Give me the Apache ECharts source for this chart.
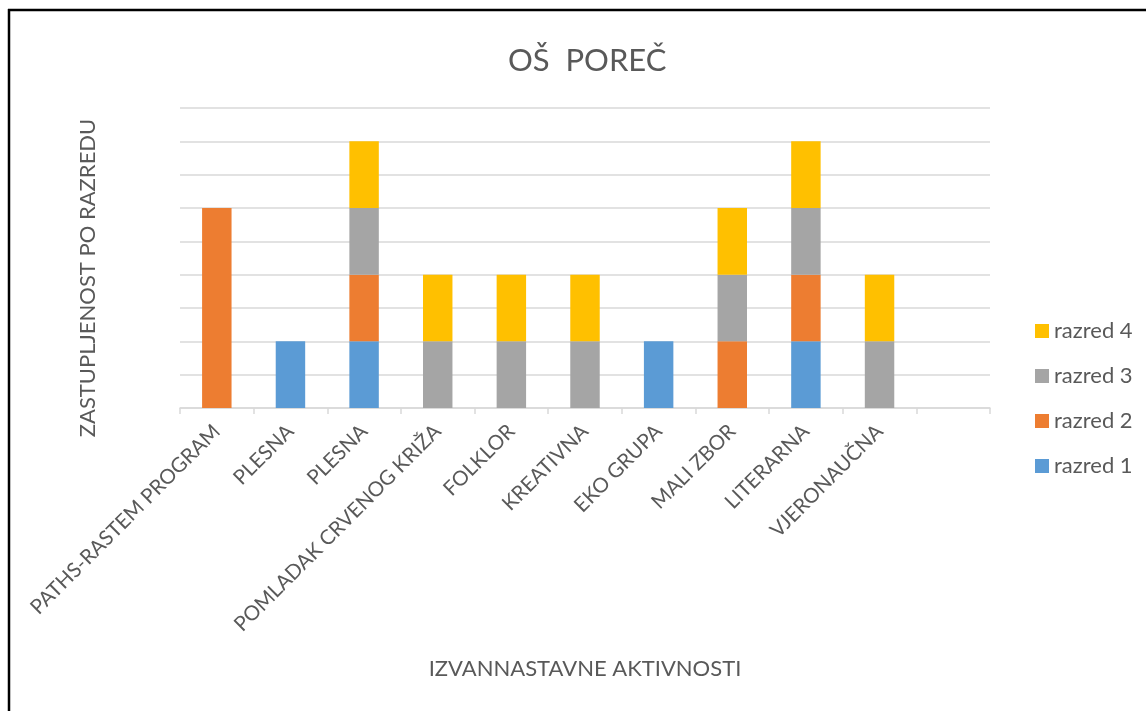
<!DOCTYPE html>
<html>
<head>
<meta charset="utf-8">
<script src="https://cdn.jsdelivr.net/npm/echarts@6/dist/echarts.min.js"></script>
<style>
  html, body { margin: 0; padding: 0; background: #fff; }
  #chart { width: 1146px; height: 711px; }
</style>
</head>
<body>
<div id="chart"></div>
<script>
// aktivnosti (zadnja je prazna kategorija)
const categories = [
  'PATHS-RASTEM PROGRAM', 'PLESNA', 'PLESNA', 'POMLADAK CRVENOG KRIŽA',
  'FOLKLOR', 'KREATIVNA', 'EKO GRUPA', 'MALI ZBOR', 'LITERARNA', 'VJERONAUČNA', '',
];
const razred1 = [null, 1, 1, null, null, null, 1, null, 1, null, null];
const razred2 = [3, null, 1, null, null, null, null, 1, 1, null, null];
const razred3 = [null, null, 1, 1, 1, 1, null, 1, 1, 1, null];
const razred4 = [null, null, 1, 1, 1, 1, null, 1, 1, 1, null];

const seriesNames = ['razred 1', 'razred 2', 'razred 3', 'razred 4'];
const seriesData = [razred1, razred2, razred3, razred4];
const colors = ['#5B9BD5', '#ED7D31', '#A5A5A5', '#FFC000'];

const font = 'Lato, "Open Sans", sans-serif';
const textColor = '#595959';

const chart = echarts.init(document.getElementById('chart'), null, { renderer: 'canvas' });

chart.setOption({
  animation: false,
  textStyle: { fontFamily: font },
  title: {
    text: 'OŠ  POREČ',
    left: 503,
    top: 40,
    textStyle: { fontSize: 31, fontWeight: 'normal', color: textColor, fontFamily: font },
  },
  legend: {
    orient: 'vertical',
    left: 1030,
    top: 315,
    itemWidth: 14,
    itemHeight: 14,
    itemGap: 23,
    icon: 'rect',
    data: ['razred 4', 'razred 3', 'razred 2', 'razred 1'],
    textStyle: { fontSize: 22, color: textColor, fontFamily: font },
  },
  grid: {
    left: 180,
    right: 156,
    top: 108,
    bottom: 303,
    containLabel: false,
  },
  xAxis: {
    type: 'category',
    data: categories,
    name: 'IZVANNASTAVNE AKTIVNOSTI',
    nameLocation: 'middle',
    nameGap: 250,
    nameTextStyle: { fontSize: 22, color: textColor, fontFamily: font },
    axisLine: { lineStyle: { color: '#d9d9d9', width: 1.5 } },
    axisTick: { show: true, length: 6, lineStyle: { color: '#d9d9d9', width: 1.5 } },
    axisLabel: {
      interval: 0,
      rotate: 45,
      margin: 20,
      fontSize: 20.5,
      color: textColor,
      fontFamily: font,
    },
  },
  yAxis: {
    type: 'value',
    min: 0,
    max: 4.5,
    interval: 0.5,
    name: 'ZASTUPLJENOST PO RAZREDU',
    nameLocation: 'middle',
    nameGap: 81,
    nameTextStyle: { fontSize: 22, color: textColor, fontFamily: font, padding: [0, 40, 0, 0] },
    axisLine: { show: false },
    axisTick: { show: false },
    axisLabel: { show: false },
    splitLine: { lineStyle: { color: '#d9d9d9', width: 1.5 } },
  },
  series: seriesNames.map((name, i) => ({
    name,
    type: 'bar',
    stack: 'razredi',
    barWidth: '40%',
    itemStyle: { color: colors[i] },
    data: seriesData[i],
  })),
  graphic: [
    {
      type: 'line',
      shape: { x1: 8, y1: 10, x2: 1146, y2: 10 },
      style: { stroke: '#000', lineWidth: 2.5 },
    },
    {
      type: 'line',
      shape: { x1: 9, y1: 9, x2: 9, y2: 711 },
      style: { stroke: '#000', lineWidth: 2.5 },
    },
  ],
});
</script>
</body>
</html>
